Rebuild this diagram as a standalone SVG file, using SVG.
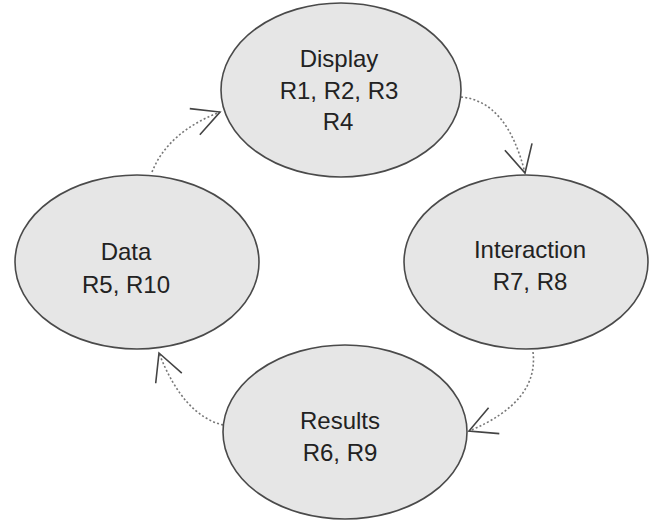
<svg xmlns="http://www.w3.org/2000/svg" width="655" height="523" viewBox="0 0 655 523">
<style>
.node ellipse{fill:#e6e6e6;stroke:#4a4a4a;stroke-width:1.6}
.node text{font-family:"Liberation Sans",Arial,sans-serif;font-size:24px;fill:#222;text-anchor:middle}
.conn path{fill:none;stroke:#777;stroke-width:1.6;stroke-dasharray:2 2.2}
</style>
<defs>
<marker id="arr" markerUnits="userSpaceOnUse" markerWidth="40" markerHeight="40" viewBox="-32 -20 36 40" refX="0" refY="0" orient="auto">
<path d="M-27,-14 L0,0 L-27,14" fill="none" stroke="#444" stroke-width="1.6"/>
</marker>
</defs>
<rect width="655" height="523" fill="#fff"/>
<g id="connectors" class="conn">
<path d="M152,172 Q168,132 220,112" marker-end="url(#arr)"/>
<path d="M461,97 Q507,101 525,173" marker-end="url(#arr)"/>
<path d="M533,352 Q539,402 469,431" marker-end="url(#arr)"/>
<path d="M223,425 Q183,415 159,353" marker-end="url(#arr)"/>
</g>
<g id="display" class="node">
<ellipse cx="341" cy="90" rx="120" ry="87"/>
<text x="339" y="67">Display</text>
<text x="339" y="99">R1, R2, R3</text>
<text x="338" y="130">R4</text>
</g>
<g id="data" class="node">
<ellipse cx="137" cy="262" rx="122" ry="87"/>
<text x="126" y="260">Data</text>
<text x="126" y="293">R5, R10</text>
</g>
<g id="interaction" class="node">
<ellipse cx="526" cy="262" rx="122" ry="87"/>
<text x="530" y="258">Interaction</text>
<text x="530" y="290">R7, R8</text>
</g>
<g id="results" class="node">
<ellipse cx="345" cy="432" rx="122" ry="87"/>
<text x="340" y="429">Results</text>
<text x="340" y="461">R6, R9</text>
</g>
</svg>
